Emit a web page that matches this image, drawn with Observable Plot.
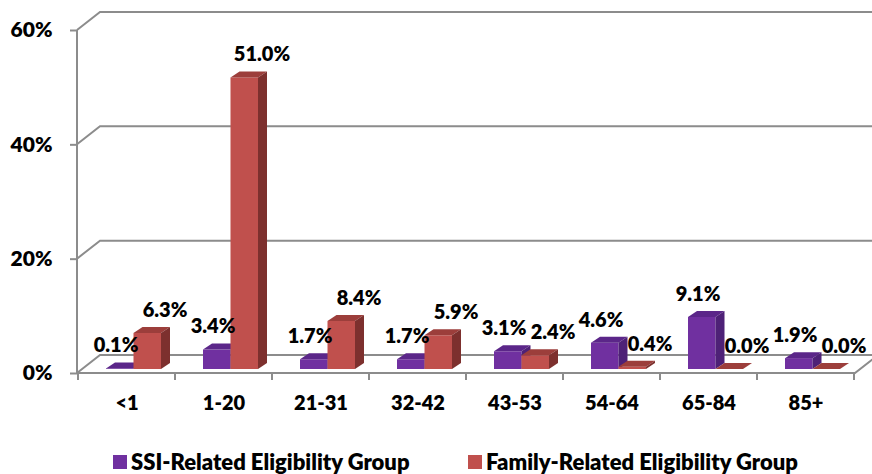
<!DOCTYPE html>
<html>
<head>
<meta charset="utf-8">
<script src="https://cdn.jsdelivr.net/npm/d3@7"></script>
<script src="https://cdn.jsdelivr.net/npm/@observablehq/plot@0.6"></script>
<style>
  html, body { margin: 0; padding: 0; background: #fff; }
  body { width: 872px; height: 474px; overflow: hidden; font-family: Lato, "Open Sans", sans-serif; }
  #legend { position: relative; height: 44px; font-weight: 800; font-size: 22px; color: #000; }
  .item { position: absolute; top: 20px; display: flex; align-items: center; white-space: nowrap; line-height: 24px; }
  .sw { width: 14px; height: 14px; margin-right: 4px; display: inline-block; }
</style>
</head>
<body>
<div id="chart"></div>
<div id="legend"></div>
<script>
// ---- data ----
const categories = ["<1", "1-20", "21-31", "32-42", "43-53", "54-64", "65-84", "85+"];
const seriesNames = ["SSI-Related Eligibility Group", "Family-Related Eligibility Group"];
const ssiValues = [0.1, 3.4, 1.7, 1.7, 3.1, 4.6, 9.1, 1.9];
const familyValues = [6.3, 51.0, 8.4, 5.9, 2.4, 0.4, 0.0, 0.0];
const yTicks = [0, 20, 40, 60];

const rows = categories.flatMap((c, i) => [
  {category: c, series: seriesNames[0], value: ssiValues[i], k: 0},
  {category: c, series: seriesNames[1], value: familyValues[i], k: 1}
]);

// ---- style ----
const palette = [
  {front: "#7030A0", top: "#5B2689", side: "#4E2177"},
  {front: "#C0504D", top: "#9C3E3B", side: "#7D302E"}
];
const GRID = "#8C8C8C";
const WALL = {dx: 23, dy: -18};
const BAR = {dx: 9, dy: -6, w: 27.5, shiftX: 7, shiftY: -4};
const W = 872, H = 430;
const FONT = "Lato, 'Open Sans', sans-serif";

function getBandwidth(scales) {
  const sx = scales.x;
  if (sx && typeof sx.bandwidth === "function") return sx.bandwidth();
  if (scales.scales && scales.scales.x && scales.scales.x.bandwidth != null) return scales.scales.x.bandwidth;
  return 0;
}

// back wall, floor and front axis lines
function wallMark(index, scales, values, dim) {
  const y = scales.y, x = scales.x;
  const bw = getBandwidth(scales);
  const left = dim.marginLeft, right = dim.width - dim.marginRight;
  const g = d3.create("svg:g").attr("fill", "none").attr("stroke", GRID).attr("stroke-width", 2);
  for (const t of yTicks) {
    const yy = y(t);
    g.append("path").attr("d", `M${left},${yy}L${left + WALL.dx},${yy + WALL.dy}L${dim.width + 5},${yy + WALL.dy}`);
  }
  const y0 = y(0);
  g.append("path").attr("d", `M${left},${y(yTicks[yTicks.length - 1])}L${left},${y0}`);
  g.append("path").attr("d", `M${left},${y0}L${right},${y0}L${right + WALL.dx},${y0 + WALL.dy}`);
  const bounds = categories.map(c => x(c)).concat([x(categories[categories.length - 1]) + bw]);
  for (const b of bounds) g.append("path").attr("d", `M${b},${y0}L${b},${y0 + 7}`);
  return g.node();
}

// 3D bars: front, top and side faces
function barsMark(index, scales, values, dim) {
  const y = scales.y, x = scales.x;
  const bw = getBandwidth(scales);
  const g = d3.create("svg:g");
  for (const r of rows) {
    const pc = x(r.category) + bw / 2 + BAR.shiftX;
    const x1 = r.k === 0 ? pc - BAR.w : pc;
    const x2 = x1 + BAR.w;
    const yb = y(0) + BAR.shiftY;
    const yt = y(r.value) + BAR.shiftY;
    const col = palette[r.k];
    if (yb - yt > 0.01) {
      g.append("rect").attr("x", x1).attr("y", yt).attr("width", BAR.w).attr("height", yb - yt).attr("fill", col.front);
    }
    g.append("path").attr("fill", col.top)
      .attr("d", `M${x1},${yt}L${x1 + BAR.dx},${yt + BAR.dy}L${x2 + BAR.dx},${yt + BAR.dy}L${x2},${yt}Z`);
    g.append("path").attr("fill", col.side)
      .attr("d", `M${x2},${yt}L${x2 + BAR.dx},${yt + BAR.dy}L${x2 + BAR.dx},${yb + BAR.dy}L${x2},${yb}Z`);
  }
  return g.node();
}

const fmt = d => d.toFixed(1) + "%";

const chart = Plot.plot({
  width: W,
  height: H,
  marginTop: 30,
  marginBottom: 57,
  marginLeft: 77,
  marginRight: 17,
  style: {fontFamily: FONT, background: "#fff", overflow: "visible"},
  x: {type: "band", domain: categories, padding: 0, label: null},
  y: {domain: [0, 60], label: null},
  marks: [
    wallMark,
    barsMark,
    Plot.text(rows.filter(r => r.k === 0), {
      x: "category", y: "value", text: d => fmt(d.value),
      dx: -11, dy: -27, fontSize: 20, fontWeight: 800, fill: "#000", lineAnchor: "middle"
    }),
    Plot.text(rows.filter(r => r.k === 1), {
      x: "category", y: "value", text: d => fmt(d.value),
      dx: 38, dy: -27, fontSize: 20, fontWeight: 800, fill: "#000", lineAnchor: "middle"
    }),
    Plot.axisY({
      ticks: yTicks, tickFormat: d => d + "%", tickSize: 7, tickPadding: 18,
      stroke: GRID, strokeWidth: 2, fill: "#000", fontSize: 21, fontWeight: 800, label: null
    }),
    Plot.axisX({
      tickSize: 0, tickPadding: 22, fill: "#000", fontSize: 20, fontWeight: 800, label: null
    })
  ]
});
document.getElementById("chart").appendChild(chart);

// legend
const legend = document.getElementById("legend");
const legendLeft = [113, 468];
seriesNames.forEach((name, i) => {
  const item = document.createElement("div");
  item.className = "item";
  item.style.left = legendLeft[i] + "px";
  const sw = document.createElement("span");
  sw.className = "sw";
  sw.style.background = palette[i].front;
  const tx = document.createElement("span");
  tx.textContent = name;
  item.appendChild(sw);
  item.appendChild(tx);
  legend.appendChild(item);
});
</script>
</body>
</html>
